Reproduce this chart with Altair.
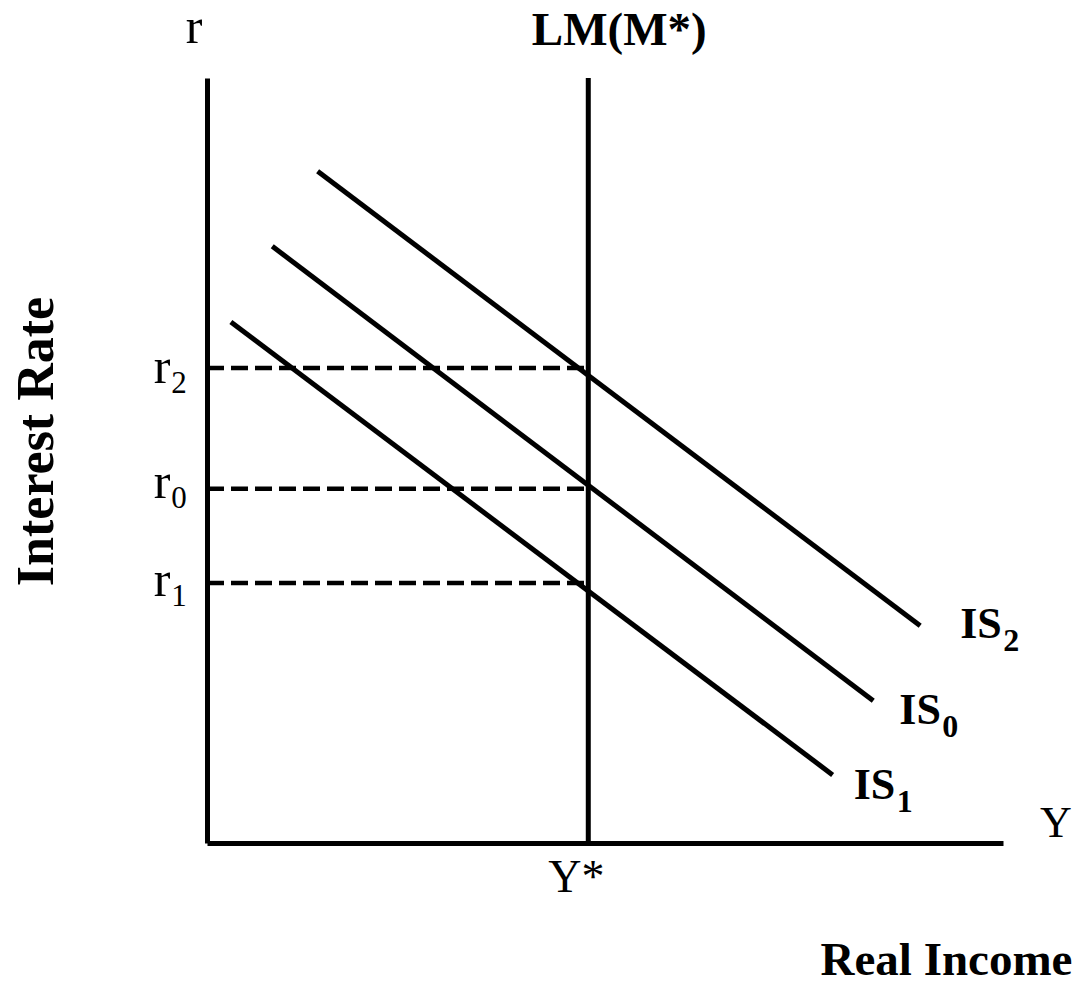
import altair as alt
import pandas as pd

# ---- data (axis units: both axes run 0..100) ----
x_max = 100
y_max = 100
y_star = 47.9                       # LM(M*) vertical position, Y*

r_labels = ["r", "r", "r"]
r_subs = ["2", "0", "1"]
r_values = [62.1, 46.3, 34.0]

is_labels = ["IS", "IS", "IS"]
is_subs = ["2", "0", "1"]
is_x0 = [13.9, 8.2, 3.0]
is_y0 = [87.8, 78.0, 68.1]
is_x1 = [89.6, 83.7, 78.6]
is_y1 = [28.4, 18.6, 8.9]

FONT = "Liberation Serif"

xs = alt.Scale(domain=[0, x_max], nice=False, zero=False)
ys = alt.Scale(domain=[0, y_max], nice=False, zero=False)

x_axis = alt.Axis(domain=True, domainWidth=5, domainColor="black", ticks=False,
                  labels=False, grid=False, title="Real Income",
                  titleFont=FONT, titleFontSize=47, titleFontWeight="bold",
                  titleColor="black", titleX=739, titleY=131,
                  titleAlign="center", titleBaseline="alphabetic")
y_axis = alt.Axis(domain=True, domainWidth=5, domainColor="black", ticks=False,
                  labels=False, grid=False, title="Interest Rate",
                  titleFont=FONT, titleFontSize=52, titleFontWeight="bold",
                  titleColor="black", titleX=-155, titleY=363, titleAngle=270,
                  titleAlign="center", titleBaseline="alphabetic")


def X(f="x"):
    return alt.X(f"{f}:Q", scale=xs, axis=x_axis)


def Y(f="y"):
    return alt.Y(f"{f}:Q", scale=ys, axis=y_axis)


is_df = pd.DataFrame({"x": is_x0, "y": is_y0, "x2": is_x1, "y2": is_y1})
is_lines = alt.Chart(is_df).mark_rule(color="black", strokeWidth=5).encode(
    x=X(), y=Y(), x2="x2:Q", y2="y2:Q")

lm_df = pd.DataFrame({"x": [y_star], "y": [0], "y2": [y_max]})
lm_line = alt.Chart(lm_df).mark_rule(color="black", strokeWidth=5).encode(
    x=X(), y=Y(), y2="y2:Q")

dash_df = pd.DataFrame({"x": [0] * 3, "x2": [y_star] * 3, "y": r_values})
dash_lines = alt.Chart(dash_df).mark_rule(
    color="black", strokeWidth=4.5, strokeDash=[17, 7]).encode(
    x=X(), x2="x2:Q", y=Y())

layers = [dash_lines, is_lines, lm_line]


def text_layer(x, y, text, size, weight="normal", dx=0, dy=0, align="center"):
    df = pd.DataFrame({"x": [x], "y": [y], "t": [text]})
    return alt.Chart(df).mark_text(
        font=FONT, fontSize=size, fontWeight=weight, color="black",
        dx=dx, dy=dy, align=align, baseline="alphabetic").encode(
        x=X(), y=Y(), text="t:N")


# axis-end labels
layers.append(text_layer(0, y_max, "r", 50, dx=-13, dy=-35))
layers.append(text_layer(y_star, y_max, "LM(M*)", 47, "bold", dx=31, dy=-33))
layers.append(text_layer(x_max, 0, "Y", 44, dx=53, dy=-6))
layers.append(text_layer(y_star, 0, "Y*", 46, dx=-12, dy=49))

# r labels with subscripts
r_dy = [15, 9, 13]
for lab, sub, val, ody in zip(r_labels, r_subs, r_values, r_dy):
    layers.append(text_layer(0, val, lab, 50, dx=-45, dy=ody))
    layers.append(text_layer(0, val, sub, 31, dx=-28, dy=ody + 10))

# IS labels with subscripts
is_offsets = [(40, 12), (26, 23), (21, 24)]
for lab, sub, xe, ye, (ox, oy) in zip(is_labels, is_subs, is_x1, is_y1, is_offsets):
    layers.append(text_layer(xe, ye, lab, 44, "bold", dx=ox, dy=oy, align="left"))
    layers.append(text_layer(xe, ye, sub, 32, "bold", dx=ox + 43, dy=oy + 13,
                             align="left"))

chart = alt.layer(*layers).properties(
    width=796, height=765,
    autosize=alt.AutoSizeParams(type="none"),
    padding={"left": 199, "top": 70, "right": 70, "bottom": 133},
    background="white",
).configure_view(stroke=None)

chart.save("out.html", embed_options={"renderer": "svg", "actions": False})
